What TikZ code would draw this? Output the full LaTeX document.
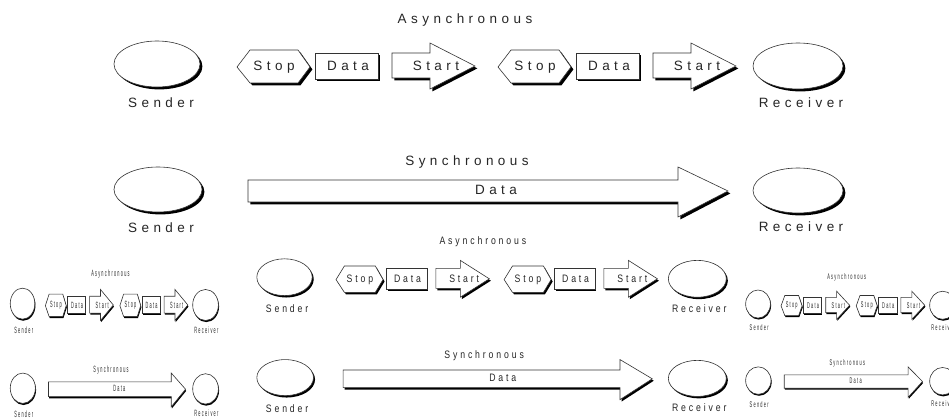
\documentclass[tikz,border=0pt]{standalone}
\usepackage{fontspec}
\newfontfamily\labelfont{Liberation Sans}[LetterSpace=33]

\tikzset{
  outline/.style={draw=black!80, line width=0.6pt, fill=white},
  lbl/.style={font=\labelfont\fontsize{13.5}{13.5}\selectfont, inner sep=0pt,
              transform shape, text=black!85},
}

% a shape with its drop shadow below and to the right
\newcommand\dropshape[1]{%
  \fill[black, shift={(2.4,2.4)}] #1;
  \draw[outline] #1;
}

% the whole chart: asynchronous and synchronous transfer
\newcommand\commchart{%
  \node[lbl] (async) at (465,20) {Asynchronous};
  \node[lbl] (sync) at (467,162) {Synchronous};
  % asynchronous row
  \dropshape{(157,64) ellipse [x radius=43, y radius=23]}
  \node[lbl] (sndA) at (161,103) {Sender};
  \dropshape{(798,66) ellipse [x radius=45, y radius=23]}
  \node[lbl] (rcvA) at (801,103) {Receiver};
  \foreach \d/\k in {0/1,261/2}{%
    \begin{scope}[shift={(\d,0)}]
      \dropshape{(237,67) -- (250,50) -- (298,50) -- (310,67) -- (298,83) -- (250,83) -- cycle}
      \node[lbl] (stop\k) at (274,67) {Stop};
      \dropshape{(315,53) rectangle (378,79)}
      \node[lbl] (data\k) at (348,66) {Data};
      \dropshape{(392,53) -- (430,53) -- (430,43) -- (475,66) -- (430,89) -- (430,78) -- (392,78) -- cycle}
      \node[lbl] (start\k) at (436,66) {Start};
    \end{scope}
  }
  % synchronous row
  \dropshape{(158,189.5) ellipse [x radius=44, y radius=22.5]}
  \node[lbl] (sndS) at (161,228) {Sender};
  \dropshape{(798,190.5) ellipse [x radius=45, y radius=22.5]}
  \node[lbl] (rcvS) at (801,227) {Receiver};
  \dropshape{(248,180) -- (678,180) -- (678,167) -- (728,191) -- (678,217) -- (678,202) -- (248,202) -- cycle}
  \node[lbl] (stream) at (496,190) {Data};
}

\begin{document}
\begin{tikzpicture}[x=1pt, y=-1pt]
  \useasboundingbox (0,0) rectangle (949,419);
  \fill[white] (0,0) rectangle (949,419);
  \clip (0,0) rectangle (949,419);
  \begin{scope}[name prefix=big-]
    \commchart
  \end{scope}
  \begin{scope}[shift={(183.4,226)}, xscale=0.644, yscale=0.8, name prefix=mid-]
    \commchart
  \end{scope}
  \begin{scope}[shift={(-22.3,260.5)}, xscale=0.2855, yscale=0.674, name prefix=left-]
    \commchart
  \end{scope}
  \begin{scope}[shift={(712.8,265)}, xscale=0.288, yscale=0.61, name prefix=right-]
    \commchart
  \end{scope}
\end{tikzpicture}
\end{document}
